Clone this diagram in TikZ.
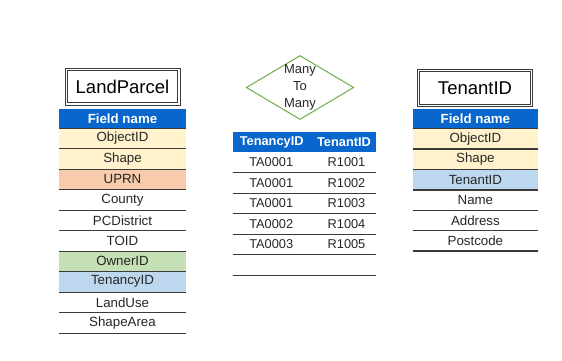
\documentclass[tikz,border=0pt]{standalone}
\usepackage{fontspec}
\setmainfont{Liberation Sans}
\usetikzlibrary{shapes.geometric}
\definecolor{hdrblue}{HTML}{0866CC}
\definecolor{cream}{HTML}{FFF2CC}
\definecolor{salmon}{HTML}{F8CBAD}
\definecolor{lgreen}{HTML}{C5E0B4}
\definecolor{lblue}{HTML}{BDD7EE}
\definecolor{rule}{HTML}{3A3A3A}
\definecolor{dgreen}{HTML}{70AD47}
\begin{document}
\begin{tikzpicture}[x=1pt,y=-1pt,
  titlebox/.style={draw=rule, line width=0.9pt, minimum width=115pt, minimum height=37pt, inner sep=0pt, font=\fontsize{18.5}{20}\selectfont,
    append after command={\pgfextra{\draw[rule, line width=0.9pt] ([shift={(2.6pt,2.6pt)}]\tikzlastnode.south west) rectangle ([shift={(-2.6pt,-2.6pt)}]\tikzlastnode.north east);}}},
  lrow/.style={minimum width=127pt, minimum height=20.5pt, inner sep=0pt, font=\fontsize{13.3}{15}\selectfont, text=black!85},
  rrow/.style={minimum width=125.3pt, minimum height=20.4pt, inner sep=0pt, font=\fontsize{13.3}{15}\selectfont, text=black!85},
  mrow/.style={minimum width=143.3pt, minimum height=20.5pt, inner sep=0pt},
  cell/.style={font=\fontsize{12.8}{15}\selectfont, text=black!85, inner sep=0pt},
  hcell/.style={font=\bfseries\fontsize{12.8}{15}\selectfont, text=white, inner sep=0pt},
  hdr/.style={fill=hdrblue, text=white, font=\bfseries\fontsize{13.3}{15}\selectfont},
  rowline/.style={draw=rule, line width=1.3pt}
]
\useasboundingbox (0,0) rectangle (562,360);
\fill[white] (0,0) rectangle (562,360);

% ---------- Left table ----------
\node[titlebox] (lt) at (122.5,86.5) {LandParcel};
\node[lrow,hdr,minimum height=19.5pt] (l0) at (122.5,118.25) {Field name};
\foreach \i/\t/\c in {1/ObjectID/cream,2/Shape/cream,3/UPRN/salmon,4/County/white,5/PCDistrict/white,6/TOID/white,7/OwnerID/lgreen,8/TenancyID/lblue,9/LandUse/white,10/ShapeArea/white}{
  \node[lrow,fill=\c] (l\i) at (122.5,{128+20.5*\i-10.25}) {\t};
}
\foreach \i in {0,...,10}{\draw[rowline] (l\i.south west) -- (l\i.south east);}

% ---------- Right table ----------
\node[titlebox] (rt) at (475,87.8) {TenantID};
\node[rrow,hdr,minimum height=19.5pt] (r0) at (475.4,118.75) {Field name};
\foreach \i/\t/\c in {1/ObjectID/cream,2/Shape/cream,3/TenantID/lblue,4/Name/white,5/Address/white,6/Postcode/white}{
  \node[rrow,fill=\c] (r\i) at (475.4,{128.5+20.4*\i-10.2}) {\t};
}
\foreach \i in {0,...,6}{\draw[rowline] (r\i.south west) -- (r\i.south east);}

% ---------- Diamond ----------
\node[diamond, draw=dgreen, line width=1pt, minimum width=106pt, minimum height=63pt, inner sep=0pt, aspect=1.68,
  font=\fontsize{13}{16.7}\selectfont, align=center, text=black!85] (dm) at (300,87.5) {Many\\To\\Many};

% ---------- Middle table ----------
\node[mrow,fill=hdrblue,minimum height=19.7pt] (m0) at (304.35,142.15) {};
\node[hcell] (m0a) at (271.7,142.15) {TenancyID};
\node[hcell] (m0b) at (344,142.15) {TenantID};
\foreach \i/\a/\b in {1/TA0001/R1001,2/TA0001/R1002,3/TA0001/R1003,4/TA0002/R1004,5/TA0003/R1005}{
  \node[mrow] (m\i) at (304.35,{152+20.5*\i-10.25}) {};
  \node[cell] (m\i a) at (271.2,{152+20.5*\i-10.25}) {\a};
  \node[cell] (m\i b) at (346.5,{152+20.5*\i-10.25}) {\b};
}
\node[mrow] (m6) at (304.35,{152+20.5*6-10.25}) {};
\foreach \i in {1,...,6}{\draw[rowline] (m\i.south west) -- (m\i.south east);}
\end{tikzpicture}
\end{document}
